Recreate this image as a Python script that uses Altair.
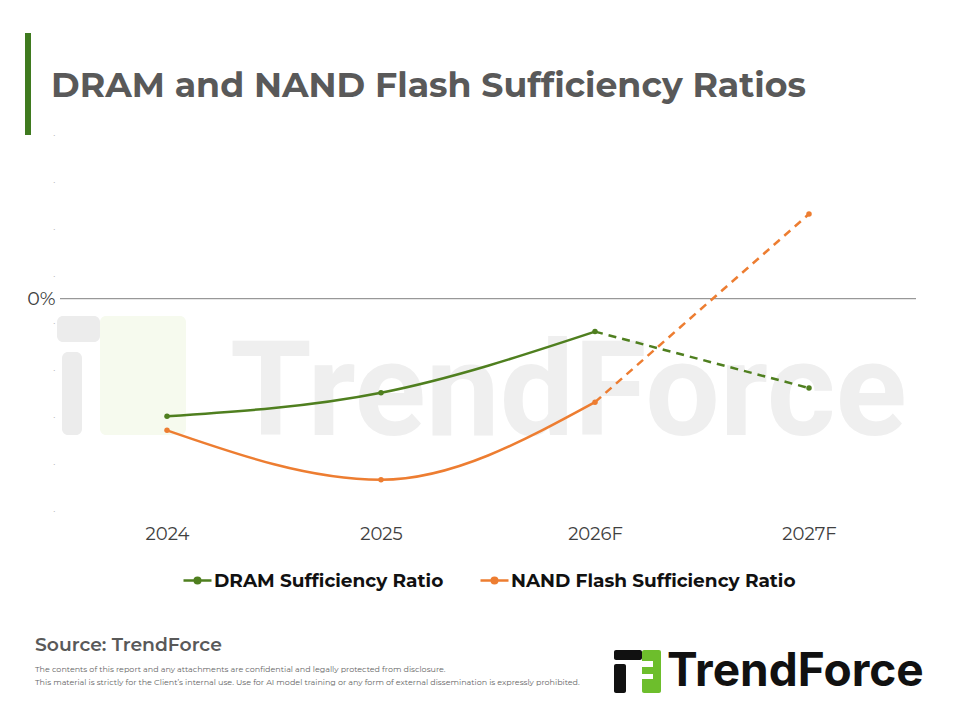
import altair as alt
import pandas as pd

# ---- data ----
years = ["2024", "2025", "2026F", "2027F"]
series_names = ["DRAM Sufficiency Ratio", "NAND Flash Sufficiency Ratio"]
dram = [-5.0, -4.0, -1.4, -3.8]
nand = [-5.6, -7.7, -4.4, 3.6]
forecast_start = "2026F"
y_ticks = [-9, -7, -5, -3, -1, 0, 1, 3, 5, 7]

title_text = "DRAM and NAND Flash Sufficiency Ratios"
source_text = "Source: TrendForce"
disclaimer = [
    "The contents of this report and any attachments are confidential and legally protected from disclosure.",
    "This material is strictly for the Client\u2019s internal use. Use for AI model training or any form of external dissemination is expressly prohibited.",
]
brand = "TrendForce"

GREEN = "#4F7F1F"
ORANGE = "#ED7D31"
FONT = "Montserrat, Inter, sans-serif"

rows = []
for name, vals in zip(series_names, [dram, nand]):
    for i, (yr, v) in enumerate(zip(years, vals)):
        rows.append({"year": yr, "series": name, "value": v, "idx": i})
df = pd.DataFrame(rows)
fi = years.index(forecast_start)
solid_df = df[df["idx"] <= fi]
dash_df = df[df["idx"] >= fi]

W, H = 856, 395

xenc = alt.X("year:N", sort=years, scale=alt.Scale(type="point", padding=0.5),
             axis=alt.Axis(title=None, domain=False, ticks=False, grid=False,
                           labelFontSize=18, labelColor="#404040", labelFont=FONT,
                           labelPadding=10, labelAngle=0))
yscale = alt.Scale(domain=[-9.2, 7.6], nice=False, zero=False)
yaxis = alt.Axis(title=None, domain=False, ticks=False, grid=False, values=y_ticks,
                 labelExpr="datum.value == 0 ? '0%' : '\u00b7'",
                 labelFont=FONT,
                 labelFontSize={"condition": {"test": "datum.value == 0", "value": 19}, "value": 10},
                 labelColor={"condition": {"test": "datum.value == 0", "value": "#404040"}, "value": "#b0b0b0"},
                 labelPadding=5)
color_scale = alt.Scale(domain=series_names, range=[GREEN, ORANGE])

one = pd.DataFrame({"a": [0]})

def txt(text, x, y, **kw):
    return alt.Chart(one).mark_text(text=text, align=kw.pop("align", "left"),
                                    baseline=kw.pop("baseline", "alphabetic"), **kw).encode(
        x=alt.value(x), y=alt.value(y))

def box(x1, x2, y1, y2, color, **kw):
    return alt.Chart(one).mark_rect(color=color, **kw).encode(
        x=alt.value(x1), x2=alt.value(x2), y=alt.value(y1), y2=alt.value(y2))

OX, OY = 60, 120  # plot origin in page pixels

# watermark
wm = [
    box(57 - OX, 100 - OX, 316 - OY, 342 - OY, "#ececec", cornerRadius=6),
    box(62 - OX, 82 - OX, 352 - OY, 435 - OY, "#ececec", cornerRadius=6),
    box(100 - OX, 186 - OX, 316 - OY, 435 - OY, "#f6faee", cornerRadius=6),
    txt(brand, 230 - OX, 435 - OY, fontSize=132, fontWeight="bold", font="Roboto", color="#efefef"),
]

yenc = alt.Y("value:Q", scale=yscale, axis=yaxis)

zero_rule = alt.Chart(pd.DataFrame({"value": [0]})).mark_rule(color="#808080", strokeWidth=1).encode(
    y=yenc, x=alt.value(0), x2=alt.value(W))

legend_path = "M-1,0H1M0.2,0A0.2,0.2,0,1,1,-0.2,0A0.2,0.2,0,1,1,0.2,0Z"

solid = alt.Chart(solid_df).mark_line(interpolate="monotone", strokeWidth=2.5).encode(
    x=xenc,
    y=yenc,
    color=alt.Color("series:N", scale=color_scale, sort=series_names,
                    legend=alt.Legend(title=None, orient="none", direction="horizontal",
                                      legendX=182 - OX, legendY=565 - OY,
                                      symbolType=legend_path, symbolSize=784,
                                      symbolStrokeWidth=2.5, labelFontSize=18.5,
                                      labelFontWeight="bold", labelColor="#111111",
                                      labelFont=FONT, labelOffset=1, columnPadding=31,
                                      labelLimit=400)),
)
dashed = alt.Chart(dash_df).mark_line(strokeWidth=2.5, strokeDash=[8, 6]).encode(
    x=xenc, y=yenc,
    color=alt.Color("series:N", scale=color_scale, legend=None))
points = alt.Chart(df).mark_point(filled=True, size=30, opacity=1).encode(
    x=xenc, y=yenc,
    color=alt.Color("series:N", scale=color_scale, legend=None))

decor = [
    box(25 - OX, 31 - OX, 33 - OY, 135 - OY, "#3F7A1F"),
    txt(title_text, 51 - OX, 97 - OY, fontSize=34.7, fontWeight="bold", font=FONT, color="#595959"),
    txt(source_text, 35 - OX, 651 - OY, fontSize=18.8, fontWeight=600, font=FONT, color="#595959"),
    txt(disclaimer[0], 35 - OX, 672 - OY, fontSize=8, font=FONT, color="#666666"),
    txt(disclaimer[1], 35 - OX, 685 - OY, fontSize=8, font=FONT, color="#666666"),
    # logo icon
    box(614 - OX, 642 - OX, 650 - OY, 660 - OY, "#111111", cornerRadius=2),
    box(614 - OX, 626 - OX, 664 - OY, 693 - OY, "#111111", cornerRadius=2),
    box(642 - OX, 661 - OX, 650 - OY, 693 - OY, "#6DBE2C", cornerRadius=2),
    box(630 - OX, 653 - OX, 661 - OY, 667 - OY, "white"),
    box(636 - OX, 653 - OX, 674 - OY, 679 - OY, "white"),
    txt(brand, 667 - OX, 686 - OY, fontSize=46, fontWeight="bold", font="Inter", color="#111111"),
]

chart = alt.layer(*wm, zero_rule, solid, dashed, points, *decor).properties(
    width=W, height=H, background="white",
    padding={"left": OX, "top": OY, "right": 960 - OX - W, "bottom": 720 - OY - H},
    autosize=alt.AutoSizeParams(type="none"),
).configure_view(stroke=None)

chart.save("out.html", embed_options={"renderer": "svg", "actions": False})
